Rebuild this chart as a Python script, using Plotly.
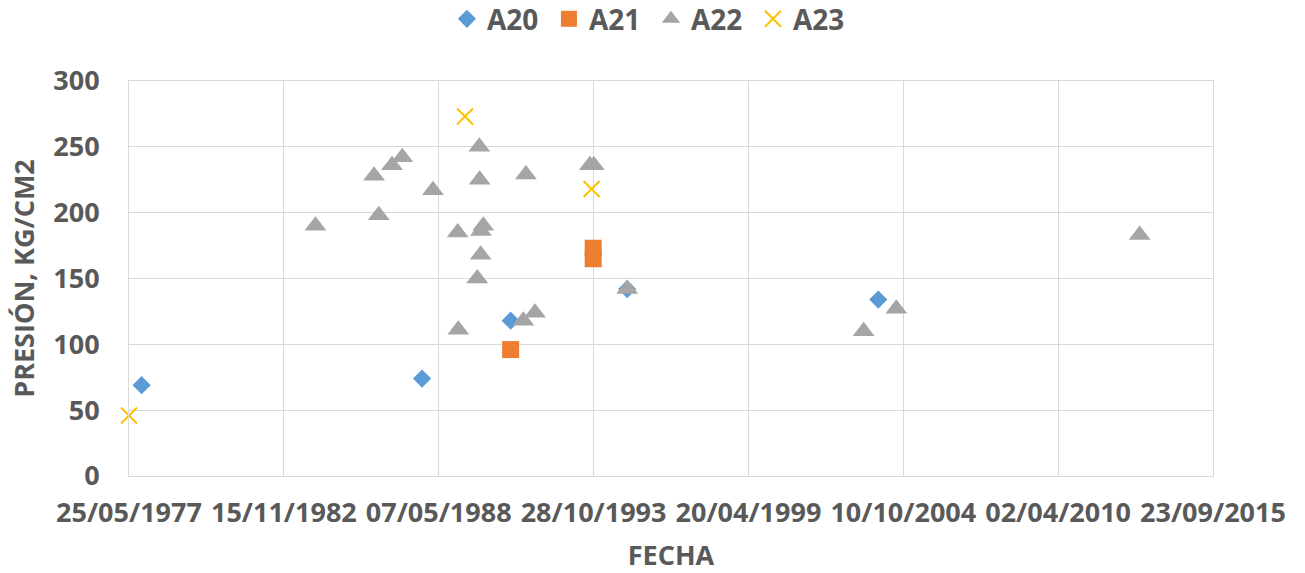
import plotly.graph_objects as go

# Pressure readings per well (date, kg/cm2)
a20_dates = ["1977-11-04", "1987-10-05", "1990-11-22", "1995-01-05", "2003-11-22"]
a20_vals = [69, 74, 118, 142, 134]

a21_dates = ["1990-11-22", "1993-10-23", "1993-10-23"]
a21_vals = [96, 173, 165]

a22_dates = [
    "1983-12-28", "1986-01-23", "1986-03-25", "1986-09-12", "1987-01-23",
    "1988-02-23", "1989-01-07", "1989-01-15", "1989-09-17", "1989-10-13",
    "1989-10-18", "1989-10-31", "1989-11-04", "1989-12-03", "1991-05-04",
    "1991-06-07", "1991-10-02", "1993-09-10", "1993-10-31", "1995-01-05",
    "2003-05-17", "2004-07-12", "2013-02-18",
]
a22_vals = [
    190, 228, 198, 236, 242,
    217, 185, 111, 150, 250,
    225, 168, 186, 190, 118,
    229, 124, 236, 236, 142,
    110, 127, 183,
]

a23_dates = ["1977-05-25", "1989-04-11", "1993-10-02"]
a23_vals = [46, 273, 218]

x_start = "1977-05-25"
x_end = "2015-09-23"
tick_step_days = 2000

TEXT = "#595959"
GRID = "#D9D9D9"
FONT = "Open Sans, Lato, DejaVu Sans, sans-serif"

fig = go.Figure()
fig.add_trace(go.Scatter(
    x=a20_dates, y=a20_vals, mode="markers", name="A20",
    marker=dict(symbol="diamond", size=14, color="#5B9BD5", line=dict(width=0)),
))
fig.add_trace(go.Scatter(
    x=a21_dates, y=a21_vals, mode="markers", name="A21",
    marker=dict(symbol="square", size=17, color="#ED7D31", line=dict(width=0)),
))
fig.add_trace(go.Scatter(
    x=a22_dates, y=a22_vals, mode="markers", name="A22",
    marker=dict(symbol="triangle-up", size=19, color="#A5A5A5", line=dict(width=0)),
))
fig.add_trace(go.Scatter(
    x=a23_dates, y=a23_vals, mode="markers", name="A23", cliponaxis=False,
    marker=dict(symbol="x-thin", size=16, color="#FFC000",
                line=dict(width=2, color="#FFC000")),
))

fig.update_layout(
    width=1305, height=573,
    margin=dict(l=129, r=92, t=81, b=97, autoexpand=False),
    paper_bgcolor="white", plot_bgcolor="white",
    font=dict(family=FONT, color=TEXT, size=27, weight="bold"),
    showlegend=True,
    legend=dict(
        orientation="h", x=0.4815, xanchor="center", y=1.22, yanchor="top",
        font=dict(size=28, color=TEXT, family=FONT, weight="bold"),
        itemsizing="trace", entrywidth=57,
    ),
)

fig.update_xaxes(
    type="date",
    range=[x_start, x_end],
    tick0=x_start,
    dtick=tick_step_days * 86400000,
    tickformat="%d/%m/%Y",
    showgrid=True, gridcolor=GRID, gridwidth=1,
    showline=True, linecolor=GRID, linewidth=1, mirror=True,
    zeroline=False, ticks="",
    ticklabelstandoff=13,
    tickfont=dict(size=27, color=TEXT, family=FONT, weight="bold"),
    title=dict(text="FECHA", standoff=19,
               font=dict(size=27, color=TEXT, family=FONT, weight="bold")),
)
fig.update_yaxes(
    range=[0, 300], dtick=50,
    showgrid=True, gridcolor=GRID, gridwidth=1,
    showline=True, linecolor=GRID, linewidth=1, mirror=True,
    zeroline=False, ticks="",
    ticklabelstandoff=23,
    tickfont=dict(size=27, color=TEXT, family=FONT, weight="bold"),
    title=dict(text="PRESIÓN, KG/CM2", standoff=10,
               font=dict(size=27, color=TEXT, family=FONT, weight="bold")),
)

fig.write_html("out.html")
